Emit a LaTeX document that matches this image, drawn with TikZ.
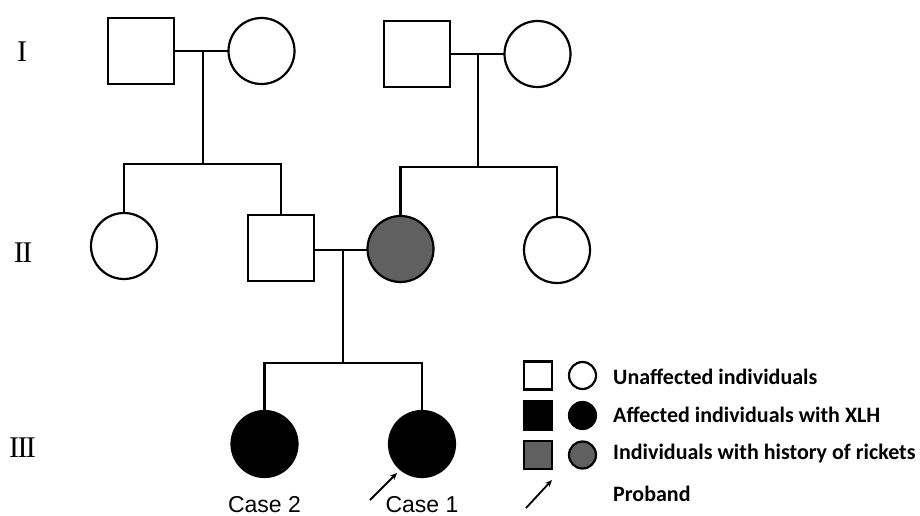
\documentclass[tikz,border=0pt]{standalone}
\usepackage{fontspec}
\usetikzlibrary{arrows.meta}
\newfontfamily\arialf{Liberation Sans}
\newfontfamily\calibf{Carlito}
\newfontfamily\romanf{Liberation Serif}
\definecolor{rgray}{RGB}{96,96,96}
\tikzset{
  ln/.style={line width=2.2pt, line cap=butt, line join=miter},
  sq/.style={draw, line width=2.2pt, fill=white, minimum size=66pt, inner sep=0pt, outer sep=0pt},
  ci/.style={draw, line width=2.2pt, fill=white, circle, minimum size=66pt, inner sep=0pt, outer sep=0pt},
  lsq/.style={draw, line width=2.2pt, minimum size=28pt, inner sep=0pt},
  lci/.style={draw, line width=2.2pt, circle, minimum size=27pt, inner sep=0pt},
  gen/.style={anchor=base, inner sep=0pt, font=\romanf\fontsize{30}{34}\selectfont},
  case/.style={anchor=base, inner sep=0pt, text depth=0pt, font=\arialf\fontsize{23}{27}\selectfont},
  leg/.style={anchor=base west, inner sep=0pt, font=\calibf\bfseries\fontsize{22}{26}\selectfont},
  pb/.style={-{Stealth[length=7pt,width=6pt]}, line width=1.8pt}
}
\begin{document}
\begin{tikzpicture}[x=1pt,y=-1pt]
\useasboundingbox[fill=white] (0,0) rectangle (920,516);
% generation labels
\node[gen] (g1) at (22,62) {I};
\node[gen] (g2) at (23,262) {I\kern-1.5ptI};
\node[gen] (g3) at (22.5,457) {I\kern-1.5ptI\kern-1.5ptI};
% generation I
\node[sq] (a1) at (141,51) {};
\node[ci] (a2) at (261.5,51) {};
\node[sq] (a3) at (417,54) {};
\node[ci] (a4) at (537.5,54) {};
% generation II
\node[ci] (b1) at (124,246) {};
\node[sq] (b2) at (281,248) {};
\node[ci, fill=rgray] (b3) at (400.5,249) {};
\node[ci] (b4) at (557,250) {};
% generation III
\node[ci, fill=black] (c1) at (264.5,444) {};
\node[ci, fill=black] (c2) at (422,444) {};
% coordinates
\coordinate (m1) at (203,51);
\coordinate (s1) at (203,164);
\coordinate (m2) at (478,54);
\coordinate (s2) at (478,167);
\coordinate (m3) at (343,250);
\coordinate (s3) at (343,363);
% lines
\draw[ln] (a1.east) -- (a2.west);
\draw[ln] (m1) -- (s1);
\draw[ln] (b1.north) |- (s1) -| (b2.north);
\draw[ln] (a3.east) -- (a4.west);
\draw[ln] (m2) -- (s2);
\draw[ln] (b3.north) |- (s2) -| (b4.north);
\draw[ln] (b2.east |- m3) -- (b3.west |- m3);
\draw[ln] (m3) -- (s3);
\draw[ln] (c1.north) |- (s3) -| (c2.north);
% case labels
\node[case] (t2) at (264.5,512) {Case 2};
\node[case] (t1) at (422,512) {Case 1};
\coordinate (p0) at (370,500);
\coordinate (p1) at (397,473);
\draw[pb] (p0) -- (p1);
% legend
\node[lsq, fill=white] (l1) at (538,375.5) {};
\node[lci, fill=white] (k1) at (582.5,375.5) {};
\node[lsq, fill=black] (l2) at (538,415.5) {};
\node[lci, fill=black] (k2) at (582.5,415.5) {};
\node[lsq, fill=rgray] (l3) at (538,455) {};
\node[lci, fill=rgray] (k3) at (582.5,455) {};
\coordinate (q0) at (526,508);
\coordinate (q1) at (552,480);
\draw[pb] (q0) -- (q1);
\node[leg] (x1) at (613,384) {Unaffected individuals};
\node[leg] (x2) at (613,422) {Affected individuals with XLH};
\node[leg] (x3) at (613,459) {Individuals with history of rickets};
\node[leg] (x4) at (613,501) {Proband};
\end{tikzpicture}
\end{document}
